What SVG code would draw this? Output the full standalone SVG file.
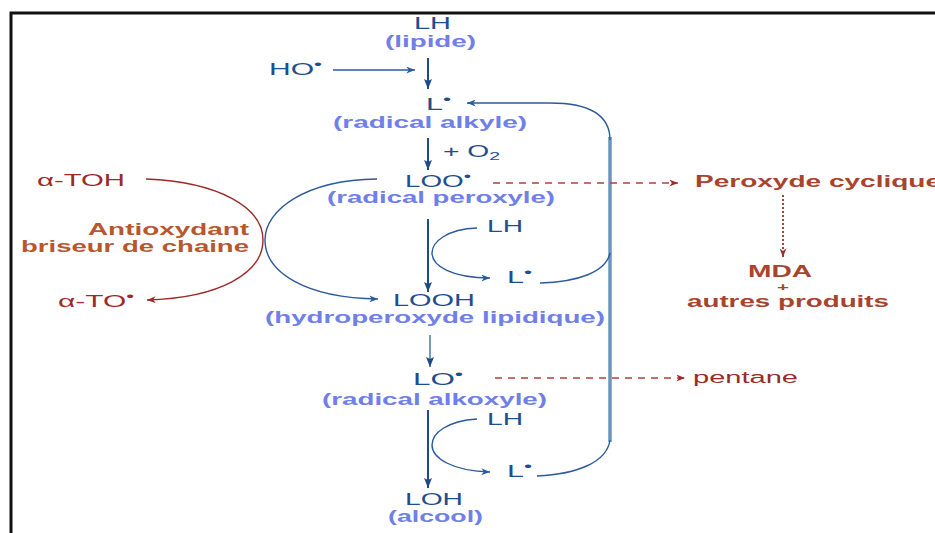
<svg xmlns="http://www.w3.org/2000/svg" width="935" height="533" viewBox="0 0 935 533">
<defs>
<style>
text{font-family:"Liberation Sans",Arial,sans-serif}
.n{font-size:16px;fill:#1f4e8c}
.p{font-size:16px;font-weight:bold;fill:#6f80e8}
.r{font-size:16px;fill:#9b2a28}
.rb{font-size:16px;font-weight:bold;fill:#a8442e}
.o{font-size:16px;font-weight:bold;fill:#b8562e}
.sup{font-size:12px}
.sub{font-size:11px}
.thin{fill:none;stroke:#2a5a9a;stroke-width:1.4}
.down{fill:none;stroke:#1f4a8a;stroke-width:2}
.red{fill:none;stroke:#9b2a28;stroke-width:1.4}
.dash{fill:none;stroke:#b0403a;stroke-width:1.4;stroke-dasharray:7,6}
</style>
<marker id="ab" viewBox="0 0 10 8" refX="10" refY="4" markerWidth="11" markerHeight="7" markerUnits="userSpaceOnUse" orient="auto"><path d="M0,0 L10,4 L0,8 L3,4 Z" fill="#2a5a9a"/></marker>
<marker id="ad" viewBox="0 0 10 8" refX="10" refY="4" markerWidth="12" markerHeight="8" markerUnits="userSpaceOnUse" orient="auto"><path d="M0,0 L10,4 L0,8 L2,4 Z" fill="#1f4a8a"/></marker>
<marker id="ar" viewBox="0 0 10 8" refX="10" refY="4" markerWidth="11" markerHeight="7" markerUnits="userSpaceOnUse" orient="auto"><path d="M0,0 L10,4 L0,8 L3,4 Z" fill="#9b2a28"/></marker>
</defs>
<rect width="935" height="533" fill="#ffffff"/>
<g id="frame" stroke="#111" stroke-width="3" fill="none">
<path d="M11,533 L11,13 L935,13"/>
</g>

<g id="connectors">
<path class="thin" d="M333,70 L415,70" marker-end="url(#ab)"/>
<path class="down" d="M428,58 L428,89" marker-end="url(#ad)"/>
<path class="down" d="M428,138 L428,170" marker-end="url(#ad)"/>
<path class="down" d="M428,219 L428,292" marker-end="url(#ad)"/>
<path d="M430,335 L430,367" fill="none" stroke="#7a9ab8" stroke-width="2" marker-end="url(#ad)"/>
<path class="down" d="M428,410 L428,488" marker-end="url(#ad)"/>
<path d="M610,137 L610,442" fill="none" stroke="#6a96bc" stroke-width="3.5"/>
<path class="thin" d="M610,140 C610,114 588,103 550,103 L467,103" marker-end="url(#ab)"/>
<path class="thin" d="M540,283 C578,282 606,272 610,253"/>
<path class="thin" d="M537,476 C578,474 607,462 610,440"/>
<path class="thin" d="M477,228 C447,229 432,242 432,253 C432,266 452,278 490,278" marker-end="url(#ab)"/>
<path class="thin" d="M477,419 C447,421 432,433 432,445 C432,458 452,471 490,472" marker-end="url(#ab)"/>
<path class="thin" d="M377,179 C305,180 265,210 265,240 C265,272 305,298 378,299" marker-end="url(#ab)"/>
<path class="red" d="M146,179 C220,182 263,208 263,240 C263,273 220,298 147,300" marker-end="url(#ar)"/>
<path class="dash" d="M493,183 L678,183" marker-end="url(#ar)"/>
<path class="dash" d="M495,378 L685,378" marker-end="url(#ar)"/>
<path d="M783,195 L783,257" fill="none" stroke="#a8442e" stroke-width="2" stroke-dasharray="2,2" marker-end="url(#ar)"/>
</g>

<g id="lh"><text class="n" x="414" y="29" textLength="37" lengthAdjust="spacingAndGlyphs">LH</text>
<text class="p" x="385" y="47" textLength="91" lengthAdjust="spacingAndGlyphs">(lipide)</text></g>
<g id="ho"><text class="n" x="269" y="75" textLength="53" lengthAdjust="spacingAndGlyphs">HO<tspan class="sup" dy="-6">•</tspan></text></g>
<g id="l1"><text class="n" x="426" y="110" textLength="25" lengthAdjust="spacingAndGlyphs">L<tspan class="sup" dy="-6">•</tspan></text>
<text class="p" x="333" y="128" textLength="194" lengthAdjust="spacingAndGlyphs">(radical alkyle)</text></g>
<g id="o2"><text class="n" x="443" y="157" textLength="57" lengthAdjust="spacingAndGlyphs">+ O<tspan class="sub" dy="3">2</tspan></text></g>
<g id="loo"><text class="n" x="405" y="187" textLength="66" lengthAdjust="spacingAndGlyphs">LOO<tspan class="sup" dy="-6">•</tspan></text>
<text class="p" x="327" y="203" textLength="228" lengthAdjust="spacingAndGlyphs">(radical peroxyle)</text></g>
<g id="lh2"><text class="n" x="487" y="232" textLength="36" lengthAdjust="spacingAndGlyphs">LH</text></g>
<g id="l2"><text class="n" x="507" y="283" textLength="25" lengthAdjust="spacingAndGlyphs">L<tspan class="sup" dy="-6">•</tspan></text></g>
<g id="looh"><text class="n" x="393" y="306" textLength="82" lengthAdjust="spacingAndGlyphs">LOOH</text>
<text class="p" x="265" y="323" textLength="340" lengthAdjust="spacingAndGlyphs">(hydroperoxyde lipidique)</text></g>
<g id="lo"><text class="n" x="413" y="385" textLength="50" lengthAdjust="spacingAndGlyphs">LO<tspan class="sup" dy="-6">•</tspan></text>
<text class="p" x="322" y="405" textLength="225" lengthAdjust="spacingAndGlyphs">(radical alkoxyle)</text></g>
<g id="lh3"><text class="n" x="487" y="425" textLength="36" lengthAdjust="spacingAndGlyphs">LH</text></g>
<g id="l3"><text class="n" x="507" y="477" textLength="25" lengthAdjust="spacingAndGlyphs">L<tspan class="sup" dy="-6">•</tspan></text></g>
<g id="loh"><text class="n" x="405" y="505" textLength="58" lengthAdjust="spacingAndGlyphs">LOH</text>
<text class="p" x="388" y="522" textLength="95" lengthAdjust="spacingAndGlyphs">(alcool)</text></g>
<g id="atoh"><text class="r" x="37" y="186" textLength="88" lengthAdjust="spacingAndGlyphs">α-TOH</text></g>
<g id="antiox"><text class="o" x="88" y="235" textLength="161" lengthAdjust="spacingAndGlyphs">Antioxydant</text>
<text class="o" x="21" y="252" textLength="228" lengthAdjust="spacingAndGlyphs">briseur de chaine</text></g>
<g id="ato"><text class="r" x="58" y="307" textLength="76" lengthAdjust="spacingAndGlyphs">α-TO<tspan class="sup" dy="-6">•</tspan></text></g>
<g id="perox"><text class="rb" x="695" y="187" textLength="246" lengthAdjust="spacingAndGlyphs">Peroxyde cyclique</text></g>
<g id="mda"><text class="rb" x="748" y="277" textLength="64" lengthAdjust="spacingAndGlyphs">MDA</text>
<text class="rb" x="777" y="291" style="font-size:11px" textLength="12" lengthAdjust="spacingAndGlyphs">+</text>
<text class="rb" x="687" y="307" textLength="202" lengthAdjust="spacingAndGlyphs">autres produits</text></g>
<g id="pentane"><text class="r" x="693" y="383" textLength="105" lengthAdjust="spacingAndGlyphs">pentane</text></g>
</svg>
